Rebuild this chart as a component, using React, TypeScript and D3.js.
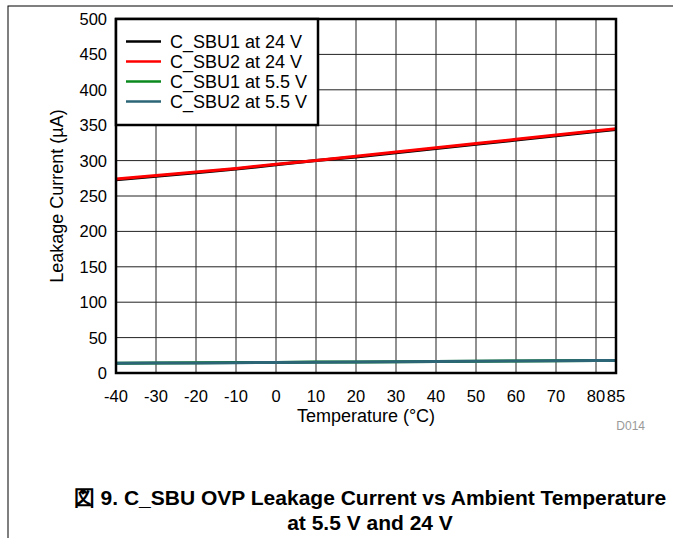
import { scaleLinear, line } from "d3";

const temps = [-40, -30, -20, -10, 0, 10, 20, 30, 40, 50, 60, 70, 80, 85];
const sbu1At24 = [273, 278, 283, 288, 294, 300, 305, 311, 317, 323, 329, 335, 341, 344];
const sbu2At24 = [274, 279, 284, 289, 295, 300, 306, 312, 318, 324, 330, 336, 342, 345];
const sbu1At55 = [13.8, 14.1, 14.4, 14.7, 15.0, 15.4, 15.7, 16.0, 16.4, 16.7, 17.0, 17.3, 17.6, 17.8];
const sbu2At55 = [13.7, 14.0, 14.3, 14.6, 14.9, 15.3, 15.6, 15.9, 16.3, 16.6, 16.9, 17.2, 17.5, 17.7];
const xTicks = [-40, -30, -20, -10, 0, 10, 20, 30, 40, 50, 60, 70, 80, 85];
const yTicks = [0, 50, 100, 150, 200, 250, 300, 350, 400, 450, 500];

const series = [
  { name: "C_SBU1 at 24 V", values: sbu1At24, color: "#000000" },
  { name: "C_SBU2 at 24 V", values: sbu2At24, color: "#ff0000" },
  { name: "C_SBU1 at 5.5 V", values: sbu1At55, color: "#0a8a1e" },
  { name: "C_SBU2 at 5.5 V", values: sbu2At55, color: "#2b6576" },
];

export default function App() {
  const left = 116;
  const right = 616;
  const top = 19;
  const bottom = 373;
  const x = scaleLinear().domain([-40, 85]).range([left, right]);
  const y = scaleLinear().domain([0, 500]).range([bottom, top]);
  const font = "'Liberation Sans', Arial, sans-serif";

  return (
    <svg
      width={673}
      height={538}
      style={{ position: "absolute", left: 0, top: 0, background: "#fff" }}
      fontFamily={font}
    >
      <rect x={8} y={6} width={700} height={560} fill="none" stroke="#000" strokeWidth="1" />
      {xTicks.map((t) => (
        <line key={`gx${t}`} x1={x(t)} x2={x(t)} y1={top} y2={bottom} stroke="#222" strokeWidth="1" />
      ))}
      {yTicks.map((t) => (
        <line key={`gy${t}`} x1={left} x2={right} y1={y(t)} y2={y(t)} stroke="#222" strokeWidth="1" />
      ))}
      {series.map((s) => {
        const path = line<number>()
          .x((_, i) => x(temps[i]))
          .y((d) => y(d))(s.values);
        return <path key={s.name} d={path ?? ""} fill="none" stroke={s.color} strokeWidth="3" />;
      })}
      <rect x={left} y={top} width={right - left} height={bottom - top} fill="none" stroke="#000" strokeWidth="2.5" />
      <rect x={left} y={top} width={202} height={106} fill="#fff" stroke="#000" strokeWidth="2.5" />
      {series.map((s, i) => (
        <g key={`lg${s.name}`}>
          <line x1={126} x2={161} y1={41.5 + i * 20} y2={41.5 + i * 20} stroke={s.color} strokeWidth="2.5" />
          <text x={170} y={48 + i * 20} fontSize="18" fill="#000">
            {s.name}
          </text>
        </g>
      ))}
      {yTicks.map((t) => (
        <text key={`yl${t}`} x={107} y={y(t) + 6} textAnchor="end" fontSize="16.5">
          {t}
        </text>
      ))}
      {xTicks.map((t) => (
        <text key={`xl${t}`} x={x(t)} y={402} textAnchor="middle" fontSize="16.5">
          {t}
        </text>
      ))}
      <text x={366} y={422} textAnchor="middle" fontSize="18">
        Temperature (°C)
      </text>
      <text transform={`translate(63,196) rotate(-90)`} textAnchor="middle" fontSize="18">
        Leakage Current (µA)
      </text>
      <text x={645} y={430} textAnchor="end" fontSize="12" fill="#999">
        D014
      </text>
      <g fontWeight="bold" fontSize="21" textAnchor="middle">
        <text x={370} y={505}>
          図 9. C_SBU OVP Leakage Current vs Ambient Temperature
        </text>
        <text x={370} y={530}>
          at 5.5 V and 24 V
        </text>
      </g>
    </svg>
  );
}
